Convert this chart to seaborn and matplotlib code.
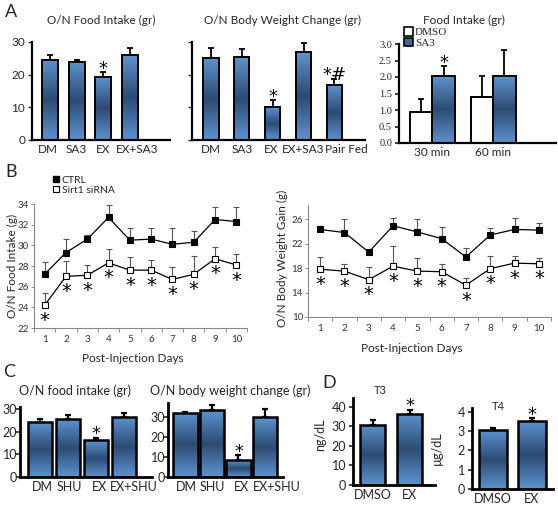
import numpy as np
import pandas as pd
import matplotlib
matplotlib.use('Agg')
import matplotlib.pyplot as plt
import matplotlib.transforms as mtransforms
import seaborn as sns
from matplotlib.colors import LinearSegmentedColormap
from matplotlib.patches import Patch
from matplotlib.lines import Line2D

# ---------------- data ----------------
a1_cats = ['DM', 'SA3', 'EX', 'EX+SA3']
a1_vals = [24.5, 23.9, 19.3, 26.0]
a1_err = [1.5, 0.7, 1.5, 2.1]

a2_cats = ['DM', 'SA3', 'EX', 'EX+SA3', 'Pair Fed']
a2_vals = [25.1, 25.4, 10.1, 26.9, 16.8]
a2_err = [3.0, 2.4, 2.1, 2.8, 1.9]

a3_times = ['30 min', '60 min']
a3_groups = ['DMSO', 'SA3']
a3_dmso = [0.94, 1.39]
a3_sa3 = [2.03, 2.03]
a3_dmso_err = [0.39, 0.64]
a3_sa3_err = [0.30, 0.79]

days = [1, 2, 3, 4, 5, 6, 7, 8, 9, 10]
b1_ctrl = [27.2, 29.3, 30.6, 32.7, 30.5, 30.6, 30.1, 30.3, 32.5, 32.3]
b1_ctrl_err = [1.2, 1.3, 0.4, 1.2, 1.2, 1.1, 1.6, 1.1, 1.2, 1.4]
b1_sirt = [24.2, 27.0, 27.1, 28.3, 27.6, 27.6, 26.7, 27.2, 28.7, 28.1]
b1_sirt_err = [1.2, 1.5, 1.0, 1.3, 1.3, 1.0, 1.2, 1.8, 1.1, 1.1]

b2_ctrl = [24.3, 23.8, 20.6, 24.9, 23.9, 22.8, 19.8, 23.4, 24.3, 24.2]
b2_ctrl_err = [0.6, 2.2, 0.0, 1.2, 2.1, 1.9, 1.5, 1.1, 1.9, 1.1]
b2_sirt = [17.8, 17.5, 16.1, 18.3, 17.5, 17.4, 15.2, 17.9, 18.8, 18.7]
b2_sirt_err = [2.0, 1.1, 2.0, 3.3, 2.2, 1.2, 1.2, 2.1, 1.1, 1.0]

c_cats = ['DM', 'SHU', 'EX', 'EX+SHU']
c1_vals = [24.3, 25.6, 16.3, 26.6]
c1_err = [1.6, 1.7, 1.0, 1.6]
c2_vals = [32.2, 33.5, 8.5, 29.8]
c2_err = [0.5, 2.5, 2.5, 4.0]

d_cats = ['DMSO', 'EX']
d1_vals = [30.9, 36.6]
d1_err = [2.6, 2.1]
d2_vals = [3.05, 3.55]
d2_err = [0.12, 0.13]

# ---------------- setup ----------------
sns.set_theme(style='white')
plt.rcParams['font.family'] = ['Lato', 'DejaVu Sans']
plt.rcParams['axes.edgecolor'] = 'black'

W, H = 558, 508
fig = plt.figure(figsize=(W / 100, H / 100), dpi=100)
fig.patch.set_facecolor('white')

BLUE = '#3d6a9e'
cmap = LinearSegmentedColormap.from_list('g', ['#5d93d0', '#2c4b72', '#5d93d0'])
grad = np.linspace(0, 1, 256).reshape(-1, 1)


def ax_px(l, t, r, b):
    return fig.add_axes([l / W, 1 - b / H, (r - l) / W, (b - t) / H])


def ftext(x, y, s, **kw):
    kw.setdefault('ha', 'center')
    kw.setdefault('va', 'center')
    fig.text(x / W, 1 - y / H, s, **kw)


def shift_xlabels(ax, dxs):
    for lab, dx in zip(ax.get_xticklabels(), dxs):
        off = mtransforms.ScaledTranslation(dx / 100.0, 0, fig.dpi_scale_trans)
        lab.set_transform(lab.get_transform() + off)


def gradientize(ax, skip_white=True):
    for p in list(ax.patches):
        fc = p.get_facecolor()
        if skip_white and fc[0] > 0.95 and fc[1] > 0.95 and fc[2] > 0.95:
            continue
        x0, y0, w, h = p.get_x(), p.get_y(), p.get_width(), p.get_height()
        im = ax.imshow(grad, extent=[x0, x0 + w, y0, y0 + h], aspect='auto',
                       cmap=cmap, origin='lower', zorder=p.get_zorder() + 0.1,
                       interpolation='bilinear')
        im.set_clip_path(p)
        p.set_facecolor('none')
        p.set_zorder(p.get_zorder() + 0.2)


def bar_panel(ax, cats, vals, errs, width, lw_spine, lw_edge, capsize, elw):
    df = pd.DataFrame({'cat': cats, 'val': vals})
    sns.barplot(data=df, x='cat', y='val', order=cats, ax=ax, width=width,
                color=BLUE, edgecolor='black', linewidth=lw_edge,
                errorbar=None, saturation=1)
    xs = [p.get_x() + p.get_width() / 2 for p in ax.patches]
    tops = [p.get_height() for p in ax.patches]
    ax.errorbar(xs, tops, yerr=[np.zeros(len(errs)), errs], fmt='none',
                ecolor='black', elinewidth=elw, capsize=capsize, capthick=elw,
                zorder=1)
    gradientize(ax, skip_white=False)
    for s in ['top', 'right']:
        ax.spines[s].set_visible(False)
    for s in ['left', 'bottom']:
        ax.spines[s].set_linewidth(lw_spine)
        ax.spines[s].set_color('black')
    ax.set_xlabel('')
    ax.set_ylabel('')
    ax.tick_params(axis='x', length=0, pad=3)
    ax.tick_params(axis='y', length=3, width=lw_spine * 0.6, direction='out',
                   left=True, pad=2)
    return xs, tops


def star(ax, x, y, s='*', dy=0, fs=13):
    ax.annotate(s, xy=(x, y), xytext=(0, dy), textcoords='offset points',
                ha='center', va='bottom', fontsize=fs, color='black',
                family=['DejaVu Sans'], annotation_clip=False)


# ---------------- Panel A1 ----------------
ax = ax_px(32, 42, 170, 140)
xs, tops = bar_panel(ax, a1_cats, a1_vals, a1_err, 0.6, 1.6, 1.4, 2.5, 1.3)
ax.set_ylim(0, 30)
ax.set_xlim(-0.67, 4.5)
ax.set_yticks([0, 10, 20, 30])
ax.tick_params(labelsize=8.5)
shift_xlabels(ax, [-2, 0, 0, 7])
star(ax, xs[2], tops[2] + a1_err[2], dy=-4)

# ---------------- Panel A2 ----------------
ax = ax_px(192, 42, 365, 140)
xs, tops = bar_panel(ax, a2_cats, a2_vals, a2_err, 0.5, 1.6, 1.4, 2.5, 1.3)
ax.set_ylim(0, 30)
ax.set_xlim(-0.61, 4.99)
ax.set_yticks([0, 10, 20, 30])
ax.set_yticklabels([])
ax.tick_params(labelsize=8.5)
shift_xlabels(ax, [0, 0, -2, 0, 12])
star(ax, xs[2], tops[2] + a2_err[2], dy=-4)
star(ax, xs[4], tops[4] + a2_err[4], s='*#', dy=-4)

# ---------------- Panel A3 ----------------
ax = ax_px(399, 44, 556, 143)
dfa3 = pd.DataFrame({
    'time': a3_times * 2,
    'group': [a3_groups[0]] * 2 + [a3_groups[1]] * 2,
    'val': a3_dmso + a3_sa3,
})
sns.barplot(data=dfa3, x='time', y='val', hue='group', order=a3_times,
            hue_order=a3_groups, palette={'DMSO': 'white', 'SA3': BLUE},
            width=0.74, edgecolor='black', linewidth=1.4, errorbar=None,
            saturation=1, legend=False, ax=ax)
pts = [p for p in ax.patches if p.get_width() > 0]
xs = [p.get_x() + p.get_width() / 2 for p in pts]
tops = [p.get_height() for p in pts]
errs = a3_dmso_err + a3_sa3_err
ax.errorbar(xs, tops, yerr=[np.zeros(4), errs], fmt='none', ecolor='black',
            elinewidth=1.3, capsize=2.5, capthick=1.3, zorder=1)
gradientize(ax, skip_white=True)
for s in ['top', 'right']:
    ax.spines[s].set_visible(False)
for s in ['left', 'bottom']:
    ax.spines[s].set_linewidth(1.6)
ax.set_xlabel('')
ax.set_ylabel('')
ax.set_ylim(0, 3.0)
ax.set_xlim(-0.545, 2.03)
ax.set_yticks(np.arange(0, 3.01, 0.5))
ax.set_yticklabels([f'{v:.1f}' for v in np.arange(0, 3.01, 0.5)],
                   family=['Liberation Serif'], fontsize=7.5)
ax.tick_params(axis='x', length=0, labelsize=8.5, pad=3)
ax.tick_params(axis='y', length=3, direction='out', left=True, pad=2)
star(ax, xs[2], tops[2] + errs[2], dy=-4)
ax.legend(handles=[Patch(facecolor='white', edgecolor='black', linewidth=1.2),
                   Patch(facecolor=BLUE, edgecolor='black', linewidth=1.2)],
          labels=a3_groups, loc='upper left', bbox_to_anchor=(0.03, 1.17),
          frameon=False, prop={'family': 'Liberation Serif', 'size': 8},
          handlelength=0.8, handleheight=0.8, handletextpad=0.2,
          labelspacing=0.05, borderaxespad=0, borderpad=0)


# ---------------- Panel B ----------------
def line_panel(ax, ctrl, ctrl_err, sirt, sirt_err, ylim, yticks):
    ax.errorbar(days, ctrl, yerr=[np.zeros(10), ctrl_err], fmt='none',
                ecolor='#555555', elinewidth=0.8, capsize=2, capthick=0.8,
                zorder=1)
    ax.errorbar(days, sirt, yerr=[np.zeros(10), sirt_err], fmt='none',
                ecolor='#555555', elinewidth=0.8, capsize=2, capthick=0.8,
                zorder=1)
    sns.lineplot(x=days, y=ctrl, ax=ax, color='black', linewidth=0.9,
                 marker='s', markersize=5, markerfacecolor='black',
                 markeredgecolor='black', markeredgewidth=0.8, zorder=3,
                 legend=False)
    sns.lineplot(x=days, y=sirt, ax=ax, color='black', linewidth=0.9,
                 marker='s', markersize=5, markerfacecolor='white',
                 markeredgecolor='black', markeredgewidth=0.8, zorder=3,
                 legend=False)
    for d, v in zip(days, sirt):
        ax.annotate('*', xy=(d, v), xytext=(0, -4), textcoords='offset points',
                    ha='center', va='top', fontsize=14, color='black',
                    family=['DejaVu Sans'], annotation_clip=False)
    ax.set_xlim(0.5, 10.5)
    ax.set_ylim(*ylim)
    ax.set_xticks(days)
    ax.set_xticklabels([str(d) for d in days])
    ax.set_xticks(np.arange(0.5, 10.6, 1), minor=True)
    ax.set_yticks(yticks)
    ax.tick_params(axis='x', which='major', length=0, labelsize=7,
                   labelcolor='#333333', pad=5)
    ax.tick_params(axis='x', which='minor', length=3, width=0.6,
                   color='#777777', direction='out', bottom=True)
    ax.tick_params(axis='y', length=2.5, width=0.6, color='#777777',
                   direction='out', left=True, labelsize=7,
                   labelcolor='#333333', pad=1)
    for s in ['top', 'right']:
        ax.spines[s].set_visible(False)
    for s in ['left', 'bottom']:
        ax.spines[s].set_linewidth(0.8)
        ax.spines[s].set_color('#888888')
    ax.set_xlabel('')
    ax.set_ylabel('')


ax = ax_px(34, 204, 247, 328)
line_panel(ax, b1_ctrl, b1_ctrl_err, b1_sirt, b1_sirt_err, (22, 34),
           [22, 24, 26, 28, 30, 32, 34])
ax.legend(handles=[Line2D([], [], marker='s', linestyle='none', color='black',
                          markerfacecolor='black', markersize=5),
                   Line2D([], [], marker='s', linestyle='none', color='black',
                          markerfacecolor='white', markersize=5,
                          markeredgewidth=0.8)],
          labels=['CTRL', 'Sirt1 siRNA'], loc='upper left',
          bbox_to_anchor=(0.09, 1.23), frameon=False, fontsize=7.5,
          handlelength=0.6, handletextpad=0.2, labelspacing=0.05,
          borderaxespad=0, borderpad=0)

ax = ax_px(308, 205, 551, 317)
line_panel(ax, b2_ctrl, b2_ctrl_err, b2_sirt, b2_sirt_err, (10, 28.3),
           [10, 14, 18, 22, 26])

ftext(12, 266, 'O/N Food Intake (g)', rotation=90, fontsize=8.5)
ftext(282, 258, 'O/N Body Weight Gain (g)', rotation=90, fontsize=8.5)
ftext(133, 358, 'Post-Injection Days', fontsize=8.5)
ftext(412, 348, 'Post-Injection Days', fontsize=8.5)

# ---------------- Panel C ----------------
ax = ax_px(20, 407, 152, 477)
xs, tops = bar_panel(ax, c_cats, c1_vals, c1_err, 0.86, 2.0, 1.8, 2.5, 1.6)
ax.set_ylim(0, 31)
ax.set_xlim(-0.72, 4.0)
ax.set_yticks([0, 10, 20, 30])
ax.tick_params(labelsize=9)
ax.tick_params(axis='y', pad=-1)
shift_xlabels(ax, [2, 1, 3, 10])
star(ax, xs[2], tops[2] + c1_err[2], dy=-4)

ax = ax_px(168, 403, 283, 477)
xs, tops = bar_panel(ax, c_cats, c2_vals, c2_err, 0.92, 2.0, 1.8, 2.5, 1.6)
ax.set_ylim(0, 37)
ax.set_xlim(-0.66, 3.68)
ax.set_yticks([0, 10, 20, 30])
ax.tick_params(labelsize=9)
ax.tick_params(axis='y', pad=-1)
shift_xlabels(ax, [1, 0, 3, 12])
star(ax, xs[2], tops[2] + c2_err[2], dy=-4)

# ---------------- Panel D ----------------
ax = ax_px(353, 398, 435, 485)
xs, tops = bar_panel(ax, d_cats, d1_vals, d1_err, 0.68, 2.0, 1.8, 2.5, 1.6)
ax.set_ylim(0, 44.6)
ax.set_xlim(-0.53, 1.69)
ax.set_yticks([0, 10, 20, 30, 40])
ax.tick_params(labelsize=9)
star(ax, xs[1], tops[1] + d1_err[1], dy=-4)

ax = ax_px(472, 408, 553, 489)
xs, tops = bar_panel(ax, d_cats, d2_vals, d2_err, 0.72, 2.0, 1.8, 2.5, 1.6)
ax.set_ylim(0, 4.2)
ax.set_xlim(-0.53, 1.55)
ax.set_yticks([0, 1, 2, 3, 4])
ax.tick_params(labelsize=9)
star(ax, xs[1], tops[1] + d2_err[1], dy=-4)

# ---------------- text ----------------
ftext(11, 12, 'A', fontsize=13)
ftext(11, 172, 'B', fontsize=13)
ftext(9, 372, 'C', fontsize=13)
ftext(329, 383, 'D', fontsize=13)

ftext(101, 20, 'O/N Food Intake (gr)', fontsize=8.5)
ftext(282, 20, 'O/N Body Weight Change (gr)', fontsize=8.5)
ftext(464, 20, 'Food Intake (gr)', fontsize=8.5)
ftext(75, 391, 'O/N food intake (gr)', fontsize=9)
ftext(150, 391, 'O/N body weight change (gr)', fontsize=9, ha='left')
ftext(380, 390, 'T3', fontsize=8)
ftext(498, 407, 'T4', fontsize=8)
ftext(320, 435, 'ng/dL', rotation=90, fontsize=9)
ftext(437, 448, 'µg/dL', rotation=90, fontsize=9)

fig.savefig('out.png', dpi=100, facecolor='white')
